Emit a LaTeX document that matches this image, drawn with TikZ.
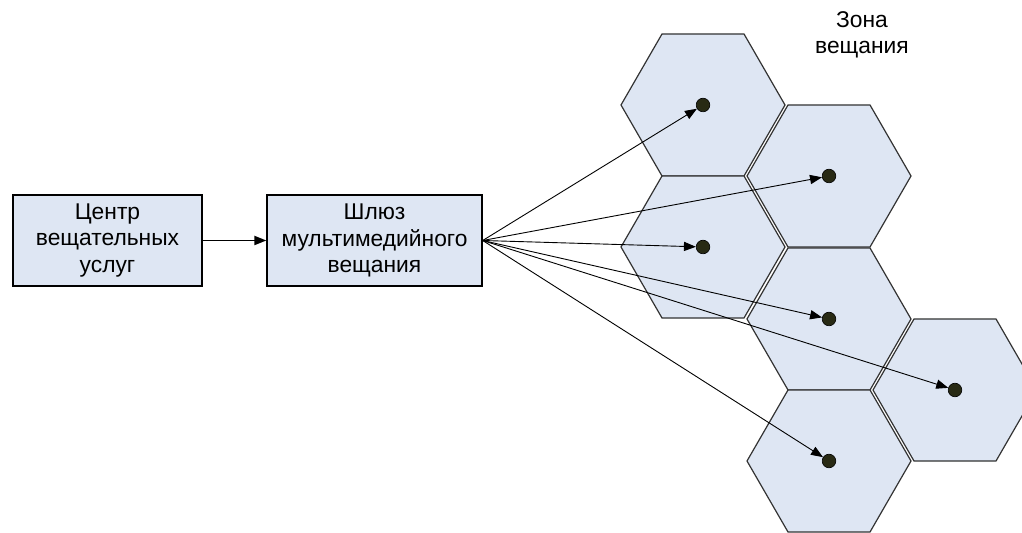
\documentclass[tikz,border=0pt]{standalone}
\usepackage{fontspec}
\setmainfont{Liberation Sans}
\usetikzlibrary{arrows.meta}
\definecolor{cellfill}{RGB}{222,230,243}
\definecolor{dotfill}{RGB}{40,42,20}

\begin{document}
\begin{tikzpicture}[
  x=0.5pt, y=-0.5pt,
  font=\fontsize{11.4}{13.2}\selectfont,
  >={Triangle[length=6pt,width=4.6pt]},
  box/.style={draw=black, fill=cellfill, align=center, line width=0.7pt, minimum height=45.5pt, inner sep=2pt},
  cell/.style={draw=black!80, fill=cellfill, line width=0.6pt, line join=miter},
  dot/.style={circle, fill=dotfill, draw=black, line width=0.3pt, inner sep=0pt, minimum size=6.8pt},
  ar/.style={->, line width=0.8pt},
  fan/.style={->, line width=0.45pt},
]
\useasboundingbox (0,0) rectangle (1022,533);
\foreach \n/\cx/\cy in {1/703/105, 2/829/176, 3/703/247, 4/829/319, 5/955/390, 6/829/461} {
  \draw[cell] (\cx,\cy) +(0:82) -- +(60:82) -- +(120:82) -- +(180:82) -- +(240:82) -- +(300:82) -- cycle;
  \node[dot] (d\n) at (\cx,\cy) {};
}
\node[box, minimum width=94.5pt] (svc) at (107.5,240.5) {Центр\\вещательных\\услуг};
\node[box, minimum width=107.5pt] (gw) at (374.5,240.5) {Шлюз\\мультимедийного\\вещания};
\node[align=center] (zone) at (862,35) {Зона\\вещания};
\draw[ar] (svc) -- (gw);
\foreach \n in {1,...,6}
  \draw[fan] (gw.east) -- (d\n);
\end{tikzpicture}
\end{document}
